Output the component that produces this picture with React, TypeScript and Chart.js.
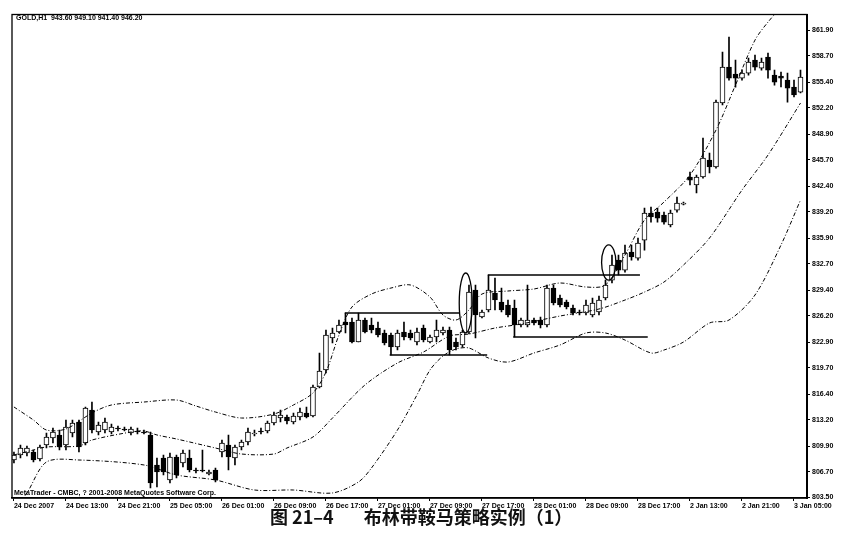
import React, { useEffect, useRef } from "react";
import { Chart, registerables } from "chart.js";

Chart.register(...registerables);

// GOLD H1 candles (index = hour bar)
const opens = [
  808.15, 808.78, 809.03, 809.15, 808.28, 810.03, 810.9, 811.28, 810.03, 811.53,
  812.9, 810.28, 814.4, 811.65, 811.9, 811.65, 812.15, 812.03, 811.53, 811.78,
  811.65, 811.28, 807.53, 808.4, 805.65, 808.53, 807.78, 808.4, 806.9, 806.9,
  806.4, 806.9, 809.15, 810.03, 808.4, 809.78, 810.4, 811.4, 811.78, 811.78,
  812.78, 813.4, 813.53, 812.9, 813.53, 814.03, 813.65, 817.28, 819.4, 823.4,
  824.15, 825.4, 825.4, 822.9, 825.65, 825.03, 824.65, 824.03, 823.78, 822.28,
  824.15, 824.03, 822.9, 824.65, 822.9, 823.53, 824.03, 824.4, 822.9, 822.53,
  824.15, 829.4, 826.03, 826.9, 829.03, 827.9, 827.53, 827.15, 825.03, 825.03,
  825.65, 825.65, 825.03, 829.65, 828.4, 827.9, 827.15, 826.65, 826.53, 826.28,
  826.65, 828.4, 830.65, 833.15, 831.9, 834.15, 833.4, 835.65, 839.03, 839.15,
  838.78, 837.53, 839.4, 840.15, 843.53, 842.53, 843.53, 845.65, 844.78, 852.78,
  857.28, 856.4, 855.9, 856.53, 858.15, 857.15, 858.53, 856.28, 856.15, 855.65,
  854.78, 854.15,
];
const highs = [
  809.15, 810.03, 809.9, 809.4, 810.03, 811.53, 812.15, 811.9, 813.15, 813.15,
  813.15, 814.78, 815.4, 812.9, 813.4, 812.65, 812.4, 812.28, 812.28, 812.15,
  811.9, 811.65, 808.4, 808.78, 809.03, 808.78, 809.4, 809.4, 807.15, 809.4,
  806.9, 807.15, 810.65, 811.28, 810.03, 810.65, 812.15, 811.9, 812.15, 813.03,
  814.15, 814.4, 813.78, 814.03, 814.65, 814.78, 817.53, 821.53, 824.4, 824.65,
  825.65, 826.53, 825.9, 826.53, 825.9, 825.9, 825.4, 824.4, 824.03, 824.4,
  825.4, 824.4, 824.65, 825.03, 823.78, 825.65, 824.78, 824.78, 823.4, 824.4,
  830.03, 830.03, 826.9, 831.28, 830.9, 829.65, 828.15, 828.15, 825.9, 830.03,
  825.9, 826.03, 830.03, 830.03, 828.78, 828.15, 827.53, 826.9, 828.15, 828.4,
  828.65, 830.65, 833.78, 833.78, 835.03, 835.03, 835.9, 839.65, 839.78, 839.65,
  839.15, 839.4, 841.03, 840.4, 844.15, 843.78, 848.4, 846.53, 853.15, 859.15,
  861.03, 858.15, 856.9, 858.4, 858.78, 858.4, 859.03, 856.9, 856.65, 856.53,
  855.65, 856.9,
];
const lows = [
  807.78, 808.4, 808.65, 807.9, 808.03, 809.65, 810.28, 809.4, 809.4, 811.03,
  809.15, 810.03, 811.53, 811.28, 811.53, 811.4, 811.78, 811.78, 811.28, 811.4,
  811.4, 804.65, 804.78, 806.28, 805.28, 805.9, 807.28, 806.65, 806.53, 806.65,
  806.28, 805.4, 808.53, 806.9, 807.53, 809.4, 810.03, 811.15, 811.4, 811.53,
  812.53, 812.9, 812.65, 812.65, 813.15, 813.4, 813.53, 817.15, 819.03, 822.78,
  824.03, 824.03, 822.78, 822.9, 824.03, 824.03, 823.53, 822.53, 821.28, 821.9,
  823.15, 823.15, 822.53, 822.9, 822.78, 822.9, 823.78, 821.28, 821.9, 822.28,
  823.9, 823.4, 825.9, 826.65, 826.9, 826.65, 826.03, 823.53, 824.78, 824.78,
  825.03, 824.65, 824.78, 827.53, 827.28, 827.03, 826.28, 826.28, 826.28, 826.03,
  826.28, 828.15, 830.28, 831.28, 831.65, 833.15, 833.15, 834.4, 837.9, 837.9,
  837.65, 837.28, 839.15, 840.03, 842.53, 841.53, 843.4, 844.03, 844.65, 852.53,
  855.65, 854.78, 855.65, 856.28, 856.9, 856.9, 855.9, 855.03, 854.78, 852.9,
  853.53, 854.03,
];
const closes = [
  808.78, 809.65, 809.65, 808.15, 809.78, 811.03, 811.65, 809.78, 812.28, 812.78,
  809.78, 814.65, 811.9, 812.53, 812.9, 812.28, 812.03, 811.9, 812.03, 811.65,
  811.53, 805.28, 806.65, 806.65, 808.53, 806.28, 809.03, 806.9, 806.78, 806.78,
  806.65, 805.65, 810.28, 808.53, 809.78, 810.4, 811.65, 811.53, 811.65, 812.78,
  813.78, 813.78, 813.03, 813.65, 814.15, 813.53, 817.28, 819.28, 823.78, 824.03,
  825.03, 825.03, 822.9, 825.65, 824.15, 824.4, 823.78, 822.78, 822.28, 824.03,
  823.53, 823.4, 824.15, 823.15, 823.53, 824.4, 824.4, 821.9, 822.28, 824.15,
  829.15, 826.28, 826.65, 829.4, 828.15, 826.9, 826.28, 825.03, 825.65, 825.65,
  825.28, 825.03, 829.65, 827.78, 827.53, 827.28, 826.53, 826.53, 827.53, 827.78,
  828.15, 830.03, 832.53, 831.9, 834.03, 833.53, 835.28, 839.03, 838.53, 838.4,
  837.9, 839.03, 840.28, 840.28, 843.15, 843.53, 845.9, 844.78, 852.9, 857.28,
  855.9, 855.9, 856.53, 857.9, 857.28, 857.9, 856.9, 855.4, 855.9, 854.65,
  853.78, 856.03,
];

// time axis: a label every 8 bars
const xTickIndex = [0, 8, 16, 24, 32, 40, 48, 56, 64, 72, 80, 88, 96, 104, 112, 120];
const xTickLabels = [
  "24 Dec 2007", "24 Dec 13:00", "24 Dec 21:00", "25 Dec 05:00",
  "26 Dec 01:00", "26 Dec 09:00", "26 Dec 17:00", "27 Dec 01:00",
  "27 Dec 09:00", "27 Dec 17:00", "28 Dec 01:00", "28 Dec 09:00",
  "28 Dec 17:00", "2 Jan 13:00", "2 Jan 21:00", "3 Jan 05:00",
];
const yTicks = [
  803.5, 806.7, 809.9, 813.2, 816.4, 819.7, 822.9, 826.2, 829.4, 832.7,
  835.9, 839.2, 842.4, 845.7, 848.9, 852.2, 855.4, 858.7, 861.9,
];

// Bollinger bands, read at the bars listed
const upperIdx = [0, 3, 5, 8, 12, 15, 20, 25, 28, 31, 35, 40, 43, 46, 48, 50, 52, 55, 58, 61, 64, 66, 68, 70, 72, 76, 80, 84, 88, 91, 94, 97, 100, 104, 108, 111, 114, 116, 118, 121];
const upperBand = [
  814.78, 813.15, 811.9, 812.03, 814.03, 815.03, 815.4, 815.65, 814.9, 814.15,
  813.4, 813.9, 815.03, 816.53, 819.15, 823.78, 827.28, 828.9, 829.65, 830.03,
  828.53, 826.28, 825.65, 826.9, 828.9, 829.28, 829.53, 830.28, 829.78, 830.03,
  833.78, 838.15, 840.4, 843.78, 849.4, 855.03, 860.65, 862.9, 864.65, 866.4,
];
const middleIdx = [0, 3, 5, 10, 12, 18, 20, 22, 25, 31, 35, 40, 42, 46, 49, 54, 59, 63, 67, 70, 74, 78, 84, 90, 94, 97, 100, 103, 107, 112, 116, 121];
const middleBand = [
  808.78, 809.4, 809.78, 809.9, 810.65, 811.65, 811.78, 811.28, 810.78, 809.65,
  808.9, 808.9, 809.65, 811.03, 813.4, 817.53, 820.28, 821.65, 823.65, 823.9,
  824.65, 825.15, 826.15, 827.03, 828.15, 829.15, 830.4, 832.53, 835.9, 841.9,
  846.28, 852.78,
];
const lowerIdx = [0, 2, 5, 10, 20, 25, 31, 37, 43, 49, 53, 55, 59, 62, 64, 66, 68, 70, 73, 76, 80, 84, 88, 91, 94, 98, 100, 103, 107, 110, 114, 118, 121];
const lowerBand = [
  801.9, 804.03, 807.9, 808.15, 807.53, 806.28, 805.65, 804.4, 804.4, 804.03,
  805.4, 807.15, 811.9, 816.28, 819.4, 821.15, 822.03, 822.15, 820.9, 820.4,
  821.53, 822.53, 824.03, 824.03, 823.15, 821.53, 821.9, 822.9, 825.28, 825.65,
  828.78, 835.03, 840.65,
];

// hand-drawn marks: horizontal box lines and circles (bar index / price)
const lineFrom = [50.9, 57.8, 72.9, 76.8];
const lineTo = [68.6, 72.8, 96.3, 97.5];
const linePrice = [826.53, 821.28, 831.28, 823.53];
const circleIdx = [69.5, 91.5];
const circlePrice = [827.78, 832.84];
const circleRx = [1.0, 1.1];
const circleRy = [3.75, 2.2];

const FONT = "'Liberation Sans', Arial, sans-serif";

const overlay = {
  id: "overlay",
  afterDatasetsDraw(chart: any) {
    const { ctx, scales } = chart;
    const xs = scales.x;
    const ys = scales.y;
    ctx.save();
    ctx.strokeStyle = "#000";
    ctx.lineWidth = 1.7;
    lineFrom.forEach((from, k) => {
      const y = ys.getPixelForValue(linePrice[k]);
      ctx.beginPath();
      ctx.moveTo(xs.getPixelForValue(from), y);
      ctx.lineTo(xs.getPixelForValue(lineTo[k]), y);
      ctx.stroke();
    });
    ctx.lineWidth = 1.3;
    circleIdx.forEach((ci, k) => {
      const cx = xs.getPixelForValue(ci);
      const cy = ys.getPixelForValue(circlePrice[k]);
      const rx = Math.abs(xs.getPixelForValue(ci + circleRx[k]) - cx);
      const ry = Math.abs(ys.getPixelForValue(circlePrice[k] + circleRy[k]) - cy);
      ctx.beginPath();
      ctx.ellipse(cx, cy, rx, ry, 0, 0, Math.PI * 2);
      ctx.stroke();
    });
    ctx.restore();
  },
  afterDraw(chart: any) {
    const { ctx, chartArea } = chart;
    ctx.save();
    ctx.strokeStyle = "#000";
    ctx.lineWidth = 1.3;
    ctx.strokeRect(chartArea.left, chartArea.top, chartArea.right - chartArea.left, chartArea.bottom - chartArea.top);
    ctx.fillStyle = "#000";
    ctx.font = `bold 7px ${FONT}`;
    ctx.textBaseline = "middle";
    ctx.fillText("GOLD,H1  943.60 949.10 941.40 946.20", chartArea.left + 4, chartArea.top + 4);
    ctx.fillText("MetaTrader - CMBC, ? 2001-2008 MetaQuotes Software Corp.", chartArea.left + 2, chartArea.bottom - 5);
    ctx.restore();
  },
};

const App: React.FC = () => {
  const canvasRef = useRef<HTMLCanvasElement | null>(null);
  const chartRef = useRef<Chart | null>(null);

  useEffect(() => {
    if (!canvasRef.current) return;
    const context = canvasRef.current.getContext("2d");
    if (!context) return;
    if (chartRef.current) chartRef.current.destroy();

    const idx = opens.map((_, i) => i);
    const bandStyle = {
      type: "line" as const,
      borderColor: "#000",
      borderWidth: 1,
      borderDash: [4, 2, 1, 2],
      pointRadius: 0,
      fill: false,
      tension: 0.3,
      order: 0,
    };

    chartRef.current = new Chart(context, {
      type: "bar",
      data: {
        datasets: [
          { ...bandStyle, label: "Upper", data: upperIdx.map((x, k) => ({ x, y: upperBand[k] })) },
          { ...bandStyle, label: "Middle", data: middleIdx.map((x, k) => ({ x, y: middleBand[k] })) },
          { ...bandStyle, label: "Lower", data: lowerIdx.map((x, k) => ({ x, y: lowerBand[k] })) },
          {
            type: "bar",
            label: "Body",
            data: idx.map((i) => ({ x: i, y: [opens[i], closes[i]] })),
            backgroundColor: idx.map((i) => (closes[i] >= opens[i] ? "#fff" : "#000")),
            borderColor: "#000",
            borderWidth: 1,
            borderSkipped: false,
            barThickness: 5,
            grouped: false,
            order: 1,
          },
          {
            type: "bar",
            label: "Wick",
            data: idx.map((i) => ({ x: i, y: [lows[i], highs[i]] })),
            backgroundColor: "#000",
            barThickness: 1,
            grouped: false,
            order: 2,
          },
        ],
      } as any,
      options: {
        animation: false,
        responsive: true,
        maintainAspectRatio: false,
        layout: { padding: { left: 12, top: 14.5, right: 0, bottom: 0 } },
        plugins: { legend: { display: false }, tooltip: { enabled: false } },
        scales: {
          x: {
            type: "linear",
            offset: false,
            min: -0.3,
            max: 122,
            afterBuildTicks: (s: any) => {
              s.ticks = xTickIndex.map((v) => ({ value: v }));
            },
            afterFit: (s: any) => {
              s.height = 12;
            },
            ticks: {
              autoSkip: false,
              maxRotation: 0,
              minRotation: 0,
              align: "start",
              padding: 1,
              color: "#000",
              font: { family: FONT, size: 7, weight: "bold" },
              callback: (_v: any, i: number) => xTickLabels[i],
            },
            grid: { offset: false, drawOnChartArea: false, drawTicks: true, tickLength: 3, color: "#000" },
            border: { display: true, color: "#000", width: 1.5 },
          },
          y: {
            type: "linear",
            position: "right",
            min: 803.4,
            max: 863.85,
            afterBuildTicks: (s: any) => {
              s.ticks = yTicks.map((v) => ({ value: v }));
            },
            afterFit: (s: any) => {
              s.width = 53;
            },
            ticks: {
              autoSkip: false,
              padding: 2,
              color: "#000",
              font: { family: FONT, size: 7, weight: "bold" },
              callback: (v: any) => Number(v).toFixed(2),
            },
            grid: { drawOnChartArea: false, drawTicks: true, tickLength: 3, color: "#000" },
            border: { display: true, color: "#000", width: 2 },
          },
        },
      } as any,
      plugins: [overlay],
    });

    return () => {
      if (chartRef.current) {
        chartRef.current.destroy();
        chartRef.current = null;
      }
    };
  }, []);

  return (
    <div style={{ position: "absolute", left: 0, top: 0, width: 860, height: 546, background: "#fff" }}>
      <div style={{ position: "relative", width: 860, height: 510 }}>
        <canvas ref={canvasRef}></canvas>
      </div>
      <div
        style={{
          position: "absolute",
          left: 270,
          top: 505,
          fontFamily: "'Noto Sans CJK SC', sans-serif",
          fontWeight: 700,
          fontSize: 18,
          lineHeight: "22px",
          color: "#111",
          whiteSpace: "nowrap",
        }}
      >
        <span>图 21–4</span>
        <span style={{ marginLeft: 30 }}>布林带鞍马策略实例（1）</span>
      </div>
    </div>
  );
};

export default App;
